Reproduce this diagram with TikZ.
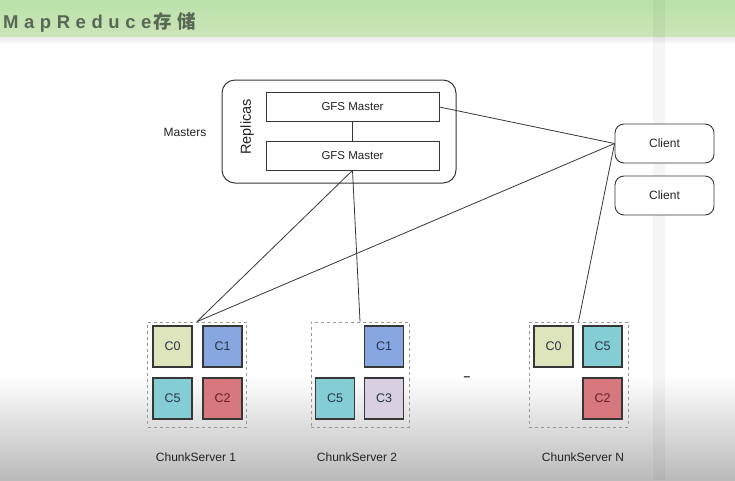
\documentclass[tikz,border=0pt]{standalone}
\usepackage{fontspec}
\setmainfont{Liberation Sans}
\newfontfamily\titlefont[LetterSpace=30]{Liberation Sans}
\newfontfamily\titlecjk[LetterSpace=30]{Noto Sans CJK SC}
\definecolor{bandA}{RGB}{186,226,170}
\definecolor{bandB}{RGB}{204,228,184}
\definecolor{titlec}{RGB}{88,104,84}
\definecolor{linec}{RGB}{55,55,55}
\definecolor{dashc}{RGB}{150,150,150}
\definecolor{cA}{RGB}{222,229,188}
\definecolor{cB}{RGB}{136,166,224}
\definecolor{cC}{RGB}{132,205,212}
\definecolor{cD}{RGB}{214,120,126}
\definecolor{cE}{RGB}{216,208,224}
\definecolor{txtc}{RGB}{35,35,35}
\definecolor{sqtxt}{RGB}{40,52,72}
\definecolor{redtxt}{RGB}{110,30,35}
\begin{document}
\begin{tikzpicture}[x=1pt,y=-1pt,
  lbl/.style={text=txtc,font=\fontsize{12}{14}\selectfont,inner sep=0pt},
  gfsbox/.style={draw=linec,line width=0.8pt,fill=white,minimum width=173pt,minimum height=29pt,inner sep=0pt,text=txtc,font=\fontsize{11.5}{13}\selectfont},
  clientbox/.style={draw=linec,line width=0.9pt,rounded corners=9pt,fill=white,minimum width=99pt,minimum height=39pt,inner sep=0pt,text=txtc,font=\fontsize{12}{14}\selectfont},
  csbox/.style={draw=dashc,dashed,line width=0.8pt,minimum width=99pt,minimum height=105pt,inner sep=0pt},
  chunk/.style={draw=linec,line width=1.2pt,minimum width=39pt,minimum height=41pt,inner sep=0pt,text=sqtxt,font=\fontsize{12.5}{14}\selectfont},
  conn/.style={draw=linec,line width=0.8pt}]
\useasboundingbox (0,0) rectangle (735,480);
% background
\fill[white] (0,0) rectangle (735,480);
\shade[top color=bandA,bottom color=bandB] (0,0) rectangle (735,37);
\shade[top color=black!8,bottom color=white] (0,37) rectangle (735,44);
\shade[top color=white,bottom color=black!27] (0,375) rectangle (735,480);
\fill[black,opacity=0.04] (653,0) rectangle (665,480);
\node[anchor=base west,inner sep=0pt,text=titlec] (title) at (3,28)
  {\fontsize{18.5}{20}\selectfont\titlefont\bfseries MapReduce\hspace{2pt}\titlecjk\bfseries 存储};
% masters
\node[draw=linec,line width=1pt,rounded corners=13pt,minimum width=234pt,minimum height=103pt,inner sep=0pt] (mbox) at (339,131.5) {};
\node[lbl] (mlabel) at (185,132) {Masters};
\node[lbl,rotate=90,font=\fontsize{14.5}{16}\selectfont] (repl) at (247,127) {Replicas};
\node[gfsbox] (gfs1) at (352.5,107) {GFS Master};
\node[gfsbox] (gfs2) at (352.5,155.5) {GFS Master};
% clients
\node[clientbox] (cl1) at (664.5,143.5) {Client};
\node[clientbox] (cl2) at (664.5,195.5) {Client};
% chunk servers
\node[csbox] (cs1) at (197,374.5) {};
\node[csbox,minimum width=98pt] (cs2) at (360,374.5) {};
\node[csbox] (csn) at (578.5,374.5) {};
\node[chunk,fill=cA] (a0) at (172.5,346.5) {C0};
\node[chunk,fill=cB] (a1) at (222.5,346.5) {C1};
\node[chunk,fill=cC] (a5) at (172.5,398.5) {C5};
\node[chunk,fill=cD,text=redtxt] (a2) at (222.5,398.5) {C2};
\node[chunk,fill=cB] (b1) at (384,346.5) {C1};
\node[chunk,fill=cC] (b5) at (335,398.5) {C5};
\node[chunk,fill=cE] (b3) at (384,398.5) {C3};
\node[chunk,fill=cA] (n0) at (553.5,346.5) {C0};
\node[chunk,fill=cC] (n5) at (602.5,346.5) {C5};
\node[chunk,fill=cD,text=redtxt] (n2) at (602.5,398.5) {C2};
\node[lbl] (l1) at (196,457) {ChunkServer 1};
\node[lbl] (l2) at (357,457) {ChunkServer 2};
\node[lbl] (ln) at (583,457) {ChunkServer N};
\node[lbl,font=\fontsize{12}{14}\selectfont\bfseries] (dots) at (467,379) {–};
% connectors
\draw[conn] (gfs1.south) -- (gfs2.north);
\draw[conn] (gfs1.east) -- (cl1.west);
\draw[conn] (cl1.west) -- (cs1.north);
\draw[conn] (gfs2.south) -- (cs1.north);
\draw[conn] (gfs2.south) -- (cs2.north);
\draw[conn] (cl1.west) -- (csn.north);
\end{tikzpicture}
\end{document}
